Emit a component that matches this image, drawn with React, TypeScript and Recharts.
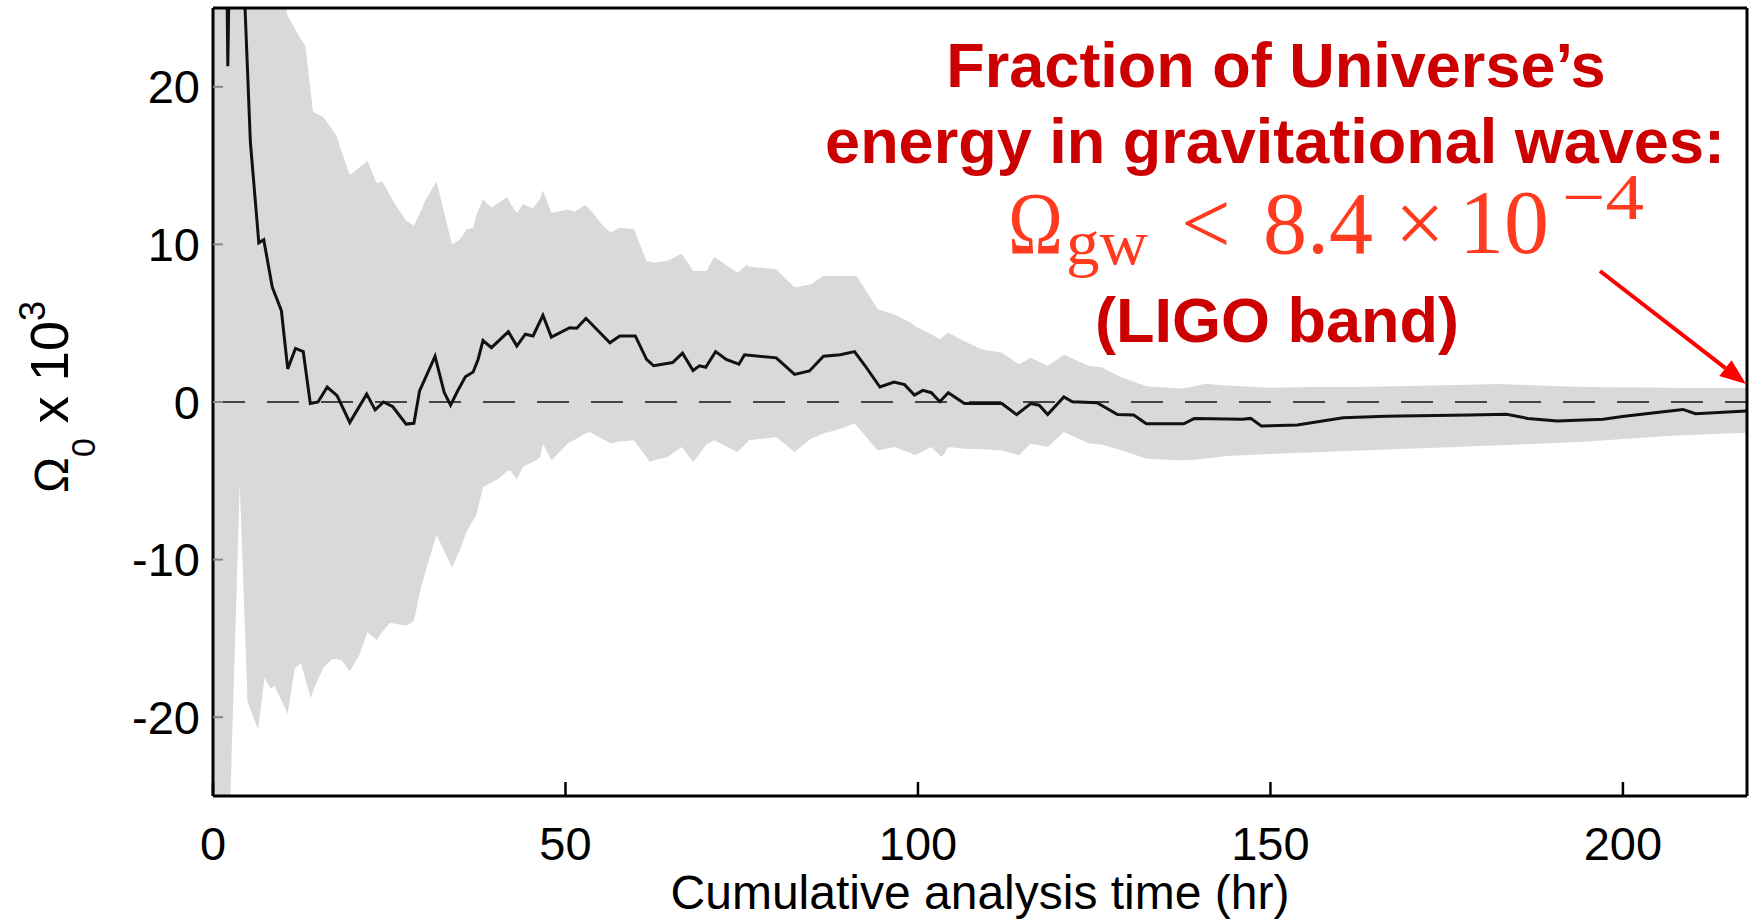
import React from "react";
import { ComposedChart, Area, Line, XAxis, YAxis, ReferenceLine } from "recharts";

const W = 1758;
const H = 919;

// x ticks (hours) and y ticks (Omega x 10^3)
const xTicks = [0, 50, 100, 150, 200];
const yTicks = [-20, -10, 0, 10, 20];
const xDomain: [number, number] = [0, 217.6];
const yDomain: [number, number] = [-25, 25];

// running point estimate
const lineX = [
  1.9, 2.1, 2.4, 3.4, 4.5, 5.3, 6.5, 7.2, 8.4, 9.7, 10.6, 11.7, 12.8, 13.8, 14.9, 16.2, 17.6, 19.4, 21.8, 23.0,
  24.2, 25.5, 27.4, 28.5, 29.3, 31.5, 32.8, 33.7, 34.7, 35.8, 36.9, 37.6, 38.3, 39.5, 41.9, 43.1, 44.3, 45.4, 46.8, 48.0,
  50.6, 51.6, 52.9, 56.3, 57.7, 59.9, 61.5, 62.5, 65.2, 66.6, 68.1, 69.0, 69.9, 71.3, 72.8, 74.6, 75.4, 79.9, 82.5, 84.6,
  86.6, 89.0, 91.0, 92.5, 94.6, 96.6, 98.1, 99.5, 100.7, 101.9, 103.1, 104.3, 106.6, 111.9, 114.0, 116.0, 117.2, 118.4, 120.7, 121.9,
  125.4, 128.3, 130.6, 132.4, 137.7, 139.2, 146.0, 147.2, 148.7, 153.8, 160.3, 166.3, 178.2, 183.5, 186.5, 190.7, 197.2, 200.2, 208.5, 210.3,
  217.5,
];
const lineY = [
  30, 21.3, 30, 40, 25.5, 16.5, 10.1, 10.3, 7.3, 5.8, 2.1, 3.4, 3.2, -0.1, 0, 0.95, 0.4, -1.3, 0.5, -0.5,
  0, -0.3, -1.4, -1.35, 0.7, 2.9, 0.6, -0.2, 0.7, 1.6, 1.9, 2.7, 3.9, 3.45, 4.46, 3.55, 4.3, 4.19, 5.5, 4.12,
  4.71, 4.68, 5.31, 3.76, 4.19, 4.19, 2.71, 2.3, 2.5, 3.1, 2.0, 2.3, 2.2, 3.2, 2.7, 2.4, 3.0, 2.8, 1.75, 1.97,
  2.9, 3.0, 3.2, 2.3, 0.95, 1.27, 1.1, 0.44, 0.74, 0.59, 0.02, 0.59, -0.1, -0.1, -0.8, -0.1, -0.2, -0.8, 0.32, 0.02,
  -0.04, -0.8, -0.83, -1.38, -1.38, -1.04, -1.1, -1.04, -1.52, -1.46, -1.0, -0.9, -0.83, -0.78, -1.04, -1.2, -1.1, -0.9, -0.47, -0.74,
  -0.57,
];

// error band: [x, low, high]
const band: [number, number, number][] = [
  [0, -30, 30], [2.4, -26, 30], [3.8, -5.2, 30], [4.9, -19.0, 30], [6.4, -20.8, 30],
  [7.3, -17.5, 30], [8.2, -18.2, 30], [8.7, -18.0, 30], [10.0, -19.2, 26], [10.6, -19.8, 24.5],
  [11.6, -16.9, 23.7], [12.5, -16.6, 23.0], [13.1, -17.6, 22.6], [13.9, -18.8, 19.5], [14.2, -18.3, 18.4],
  [15.6, -16.9, 18.1], [16.9, -16.3, 17.3], [17.5, -16.3, 16.9], [18.3, -16.4, 15.8], [19.4, -17.1, 14.4],
  [20.8, -16.0, 14.9], [21.9, -14.6, 15.3], [23.2, -15.1, 13.9], [24.0, -14.6, 14.0], [25.1, -14.0, 13.1],
  [26.2, -14.1, 12.3], [27.4, -14.2, 11.5], [28.5, -13.9, 11.2], [29.5, -11.8, 12.1], [30.0, -11.0, 12.7],
  [31.7, -8.4, 14.0], [33.9, -10.5, 10.0], [35.0, -9.4, 10.3], [36.0, -8.2, 10.96], [36.9, -7.5, 11.06],
  [37.4, -7.1, 11.9], [38.3, -5.4, 12.86], [39.5, -5.1, 12.33], [40.4, -4.9, 12.6], [41.7, -4.4, 13.0],
  [42.2, -4.35, 12.6], [43.1, -4.9, 12.0], [44.0, -4.1, 12.55], [45.4, -3.8, 12.29], [46.4, -3.5, 12.9],
  [46.8, -2.65, 13.43], [48.0, -3.7, 12.0], [50.4, -2.6, 12.22], [51.3, -2.4, 12.07], [52.8, -2.0, 12.5],
  [53.5, -1.9, 12.2], [54.2, -2.1, 11.8], [55.1, -2.3, 11.3], [56.4, -2.64, 10.74], [57.7, -2.5, 11.06],
  [59.7, -2.43, 10.96], [61.5, -3.5, 8.95], [62.0, -3.8, 8.9], [62.5, -3.7, 8.84], [64.4, -3.5, 8.95],
  [66.5, -2.85, 9.41], [68.1, -3.8, 8.31], [70.0, -2.7, 8.31], [71.1, -2.43, 9.2], [74.4, -3.17, 8.2],
  [75.7, -2.6, 8.69], [76.0, -2.43, 8.6], [77.6, -2.35, 8.52], [79.9, -2.22, 8.42], [82.5, -3.17, 7.26],
  [84.9, -2.3, 7.47], [85.5, -2.22, 7.7], [86.6, -2.0, 8.0], [89.0, -1.69, 8.0], [91.0, -1.37, 8.0],
  [91.3, -1.5, 8.0], [94.3, -3.07, 5.88], [96.6, -2.85, 5.56], [99.0, -3.25, 5.03], [99.6, -3.38, 4.8],
  [101.9, -2.85, 4.3], [103.1, -3.4, 3.97], [103.4, -3.49, 4.1], [104.3, -2.85, 4.4], [106.6, -2.96, 3.86],
  [109.0, -3.0, 3.34], [111.9, -3.07, 3.13], [114.3, -3.38, 2.39], [116.0, -2.64, 2.8], [118.4, -2.85, 2.28],
  [120.7, -1.9, 3.0], [124.3, -2.64, 2.28], [126.0, -2.69, 2.2], [129.0, -3.07, 1.54], [132.4, -3.6, 1.0],
  [137.2, -3.7, 0.85], [138.3, -3.7, 0.9], [140.7, -3.6, 1.16], [143.7, -3.43, 1.05], [150.0, -3.3, 0.9],
  [155.6, -3.2, 0.95], [161.5, -3.1, 0.95], [173.4, -2.9, 1.05], [182.4, -2.75, 1.14], [191.3, -2.58, 1.0],
  [195.0, -2.5, 0.95], [206.2, -2.16, 0.9], [209.1, -2.1, 0.89], [217.6, -1.95, 0.89],
];

const SANS = "'Liberation Sans', Arial, Helvetica, sans-serif";
const SERIF = "'Liberation Serif', 'Times New Roman', serif";
const RED = "#cc0000";
const MATH_RED = "#ff3a1e";

export default function App() {
  const lineData = lineX.map((x, i) => ({ x, omega: lineY[i] }));
  const bandData = band.map(([x, lo, hi]) => ({ x, range: [lo, hi] }));

  const axisLine = { stroke: "#000", strokeWidth: 3 };
  const tickLine = { stroke: "#000", strokeWidth: 2.5 };

  // arrow from the annotation down to the last point
  const ax1 = 1600, ay1 = 271, ax2 = 1746, ay2 = 384;
  const len = Math.hypot(ax2 - ax1, ay2 - ay1);
  const ux = (ax2 - ax1) / len, uy = (ay2 - ay1) / len;
  const headL = 26, headW = 10;
  const bx = ax2 - ux * headL, by = ay2 - uy * headL;

  return (
    <div style={{ position: "absolute", left: 0, top: 0, width: W, height: H, background: "#fff", fontFamily: SANS }}>
      <ComposedChart width={W} height={H} margin={{ top: 7, right: 10, bottom: 23, left: 113 }}>
        <XAxis
          dataKey="x"
          type="number"
          domain={xDomain}
          ticks={xTicks}
          allowDataOverflow
          height={100}
          tickSize={-14}
          tickMargin={45}
          interval={0}
          tick={{ fontSize: 47, fill: "#000", fontFamily: SANS }}
          axisLine={axisLine}
          tickLine={tickLine}
          label={{ value: "Cumulative analysis time (hr)", position: "insideBottom", offset: -13, fontSize: 48, fill: "#000", fontFamily: SANS }}
        />
        <XAxis
          xAxisId="top"
          orientation="top"
          type="number"
          domain={xDomain}
          ticks={xTicks}
          allowDataOverflow
          height={1}
          tick={false}
          tickSize={-14}
          interval={0}
          axisLine={axisLine}
          tickLine={tickLine}
        />
        <YAxis
          type="number"
          domain={yDomain}
          ticks={yTicks}
          allowDataOverflow
          width={100}
          tickSize={-10}
          tickMargin={23}
          interval={0}
          tick={{ fontSize: 47, fill: "#000", fontFamily: SANS }}
          axisLine={axisLine}
          tickLine={{ stroke: "#888", strokeWidth: 2 }}
        />
        <YAxis
          yAxisId="right"
          orientation="right"
          type="number"
          domain={yDomain}
          ticks={yTicks}
          allowDataOverflow
          width={1}
          tick={false}
          tickSize={-14}
          interval={0}
          axisLine={axisLine}
          tickLine={tickLine}
        />
        <Area
          data={bandData}
          dataKey="range"
          type="linear"
          stroke="none"
          fill="#d9d9d9"
          fillOpacity={1}
          isAnimationActive={false}
        />
        <ReferenceLine y={0} stroke="#444" strokeWidth={2.2} strokeDasharray="32 22" />
        <Line
          data={lineData}
          dataKey="omega"
          type="linear"
          stroke="#111"
          strokeWidth={3}
          dot={false}
          isAnimationActive={false}
        />
      </ComposedChart>

      <svg width={W} height={H} style={{ position: "absolute", left: 0, top: 0, pointerEvents: "none" }}>
        {/* y axis title */}
        <text transform="translate(68,397) rotate(-90)" textAnchor="middle" fontFamily={SANS} fontSize={54} fill="#000">
          <tspan fontSize={48}>Ω</tspan>
          <tspan fontSize={34} dy={27}>0</tspan>
          <tspan dy={-27}>{" x 10"}</tspan>
          <tspan fontSize={36} dy={-23}>3</tspan>
        </text>

        {/* annotation */}
        <g fontFamily={SANS} fontWeight="bold" fontSize={63} fill={RED} textAnchor="middle">
          <text x={1276} y={87}>Fraction of Universe’s</text>
          <text x={1275} y={163}>energy in gravitational waves:</text>
          <text x={1277} y={342}>(LIGO band)</text>
        </g>
        <g fontFamily={SERIF} fill={MATH_RED}>
          <text x={1008} y={253} fontSize={88} textLength={55} lengthAdjust="spacingAndGlyphs">Ω</text>
          <text x={1066} y={264} fontSize={64} textLength={82} lengthAdjust="spacingAndGlyphs">gw</text>
          <text x={1181} y={253} fontSize={88}>&lt;</text>
          <text x={1263} y={253} fontSize={88}>8.4</text>
          <text x={1395} y={253} fontSize={88}>×</text>
          <text x={1459} y={253} fontSize={90}>10</text>
          <text x={1562} y={219} fontSize={66} textLength={82} lengthAdjust="spacingAndGlyphs">−4</text>
        </g>
        <line x1={ax1} y1={ay1} x2={bx} y2={by} stroke="#ff0000" strokeWidth={4} />
        <polygon
          points={`${ax2},${ay2} ${bx - uy * headW},${by + ux * headW} ${bx + uy * headW},${by - ux * headW}`}
          fill="#ff0000"
        />
      </svg>
    </div>
  );
}
